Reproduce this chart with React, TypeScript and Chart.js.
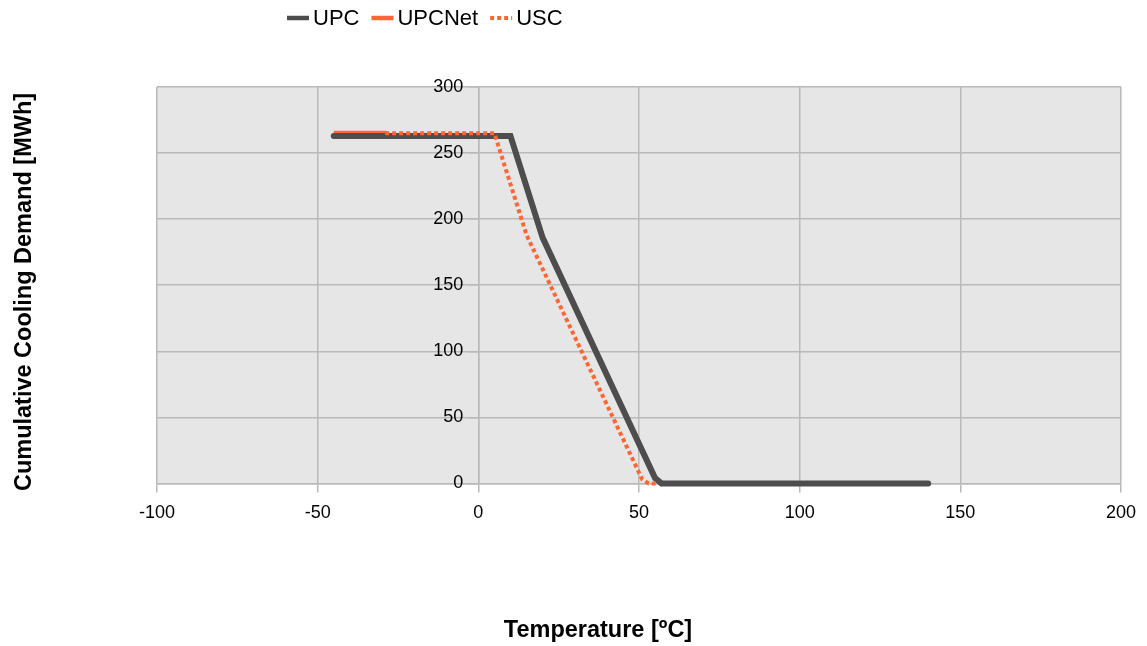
import React, { useEffect, useRef } from "react";
import { Chart, registerables } from "chart.js";

Chart.register(...registerables);

// ---- Data ----
const seriesNames = ["UPC", "UPCNet", "USC"];

const upcTemp = [-45, 10, 20, 55, 57, 140];
const upcDemand = [263, 263, 186, 4, 0, 0];

const upcNetTemp = [-45, -29, -28, 10, 20, 55, 57, 140];
const upcNetDemand = [265, 265, 263, 263, 186, 4, 0, 0];

const uscTemp = [-29, 5, 15, 51, 53, 56];
const uscDemand = [265, 265, 188, 3, 0, 0];

const xTicks = [-100, -50, 0, 50, 100, 150, 200];
const yTicks = [0, 50, 100, 150, 200, 250, 300];

const yTitle = "Cumulative Cooling Demand [MWh]";
const xTitle = "Temperature [ºC]";

const FONT = "'Liberation Sans', Arial, Helvetica, sans-serif";

const toPoints = (xs: number[], ys: number[]) => xs.map((x, i) => ({ x, y: ys[i] }));

const overlayPlugin = {
  id: "overlay",
  afterDraw(chart: any) {
    const ctx = chart.ctx as CanvasRenderingContext2D;
    ctx.save();
    // Legend
    ctx.font = `22px ${FONT}`;
    ctx.textBaseline = "middle";
    ctx.textAlign = "left";
    let x = 287;
    const y = 18;
    const dsList = chart.data.datasets;
    dsList.forEach((ds: any, i: number) => {
      ctx.save();
      ctx.strokeStyle = ds.borderColor;
      ctx.lineWidth = i === 2 ? 4 : 4.5;
      ctx.setLineDash(ds.borderDash || []);
      ctx.beginPath();
      ctx.moveTo(x, y);
      ctx.lineTo(x + 22, y);
      ctx.stroke();
      ctx.restore();
      ctx.fillStyle = "#000";
      ctx.fillText(ds.label, x + 26, y + 1);
      x += 26 + ctx.measureText(ds.label).width + 12;
    });
    // Axis titles
    ctx.font = `bold 23.5px ${FONT}`;
    ctx.fillStyle = "#000";
    ctx.textAlign = "center";
    ctx.textBaseline = "middle";
    ctx.fillText(xTitle, 598, 631);
    ctx.translate(25, 292);
    ctx.rotate(-Math.PI / 2);
    ctx.fillText(yTitle, 0, 0);
    ctx.restore();
  },
};

export default function App() {
  const canvasRef = useRef<HTMLCanvasElement | null>(null);

  useEffect(() => {
    if (!canvasRef.current) return;
    Chart.defaults.font.family = FONT;
    const chart = new Chart(canvasRef.current, {
      type: "line",
      data: {
        datasets: [
          {
            label: seriesNames[0],
            data: toPoints(upcTemp, upcDemand),
            borderColor: "#4d4d4d",
            backgroundColor: "#4d4d4d",
            borderWidth: 6,
            borderCapStyle: "round",
            borderJoinStyle: "miter",
            pointRadius: 0,
            tension: 0,
            clip: false as any,
            order: 1,
          },
          {
            label: seriesNames[1],
            data: toPoints(upcNetTemp, upcNetDemand),
            borderColor: "#ff6633",
            backgroundColor: "#ff6633",
            borderWidth: 5,
            pointRadius: 0,
            tension: 0,
            clip: false as any,
            order: 2,
          },
          {
            label: seriesNames[2],
            data: toPoints(uscTemp, uscDemand),
            borderColor: "#ff6633",
            backgroundColor: "#ff6633",
            borderWidth: 4,
            borderDash: [4, 3],
            pointRadius: 0,
            tension: 0,
            clip: false as any,
            order: 0,
          },
        ],
      },
      options: {
        responsive: false,
        animation: false,
        layout: { padding: { left: 157, right: 26, top: 87, bottom: 112 } },
        plugins: {
          legend: { display: false },
          tooltip: { enabled: false },
          title: { display: false },
        },
        scales: {
          x: {
            type: "linear",
            min: xTicks[0],
            max: xTicks[xTicks.length - 1],
            afterBuildTicks: (s: any) => {
              s.ticks = xTicks.map((v) => ({ value: v }));
            },
            grid: {
              color: "#b9b9b9",
              lineWidth: 1.5,
              tickLength: 9,
              drawTicks: true,
            },
            border: { color: "#b9b9b9", width: 1.5 },
            ticks: {
              color: "#000",
              font: { size: 18, family: FONT },
              padding: 10,
              maxRotation: 0,
            },
          },
          y: {
            type: "linear",
            position: { x: 0 } as any,
            min: yTicks[0],
            max: yTicks[yTicks.length - 1],
            afterBuildTicks: (s: any) => {
              s.ticks = yTicks.map((v) => ({ value: v }));
            },
            grid: {
              color: "#b9b9b9",
              lineWidth: 1.5,
              tickLength: 9,
            },
            border: { color: "#b9b9b9", width: 1.5 },
            ticks: {
              color: "#000",
              font: { size: 18, family: FONT },
              // axis placed at x = 0 draws labels flush right on it; trailing spaces give the gap
              callback: (v: any) => `${v}   `,
            },
          },
        },
      },
      plugins: [
        {
          id: "plotBg",
          beforeDraw(c: any) {
            const { ctx, chartArea } = c;
            ctx.save();
            ctx.fillStyle = "#e6e6e6";
            ctx.fillRect(chartArea.left, chartArea.top, chartArea.right - chartArea.left, chartArea.bottom - chartArea.top);
            ctx.restore();
          },
        },
        overlayPlugin,
      ],
    } as any);
    return () => chart.destroy();
  }, []);

  return (
    <div style={{ position: "fixed", left: 0, top: 0, width: 1147, height: 646, background: "#fff" }}>
      <canvas ref={canvasRef} width={1147} height={646} style={{ width: 1147, height: 646, display: "block" }} />
    </div>
  );
}
